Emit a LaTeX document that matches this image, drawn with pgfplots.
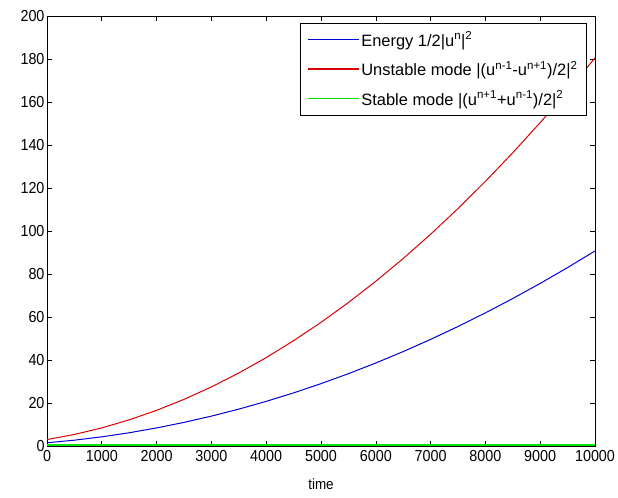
\documentclass[border=0pt]{standalone}
\usepackage{fontspec}
\setmainfont{Liberation Sans}
\newfontfamily\tickfont{Liberation Sans}[FakeStretch=0.9]
\usepackage{pgfplots}
\pgfplotsset{compat=1.18}

\begin{document}
\begin{tikzpicture}
\begin{axis}[
    at={(0bp,0bp)}, anchor=south west,
    scale only axis,
    width=548bp, height=430bp,
    xmin=0, xmax=10000,
    ymin=0, ymax=200,
    xtick={0,1000,...,10000},
    ytick={0,20,...,200},
    scaled x ticks=false,
    /pgf/number format/1000 sep={},
    /pgf/number format/assume math mode=true,
    tick align=inside,
    major tick length=5bp,
    tick style={black, line width=0.6bp},
    axis line style={black, line width=0.7bp},
    tick label style={font=\tickfont\fontsize{16}{18}\selectfont},
    yticklabel style={xshift=1bp},
    xticklabel style={yshift=-1bp},
    xlabel={time},
    xlabel style={font=\tickfont\fontsize{15}{17}\selectfont,
        at={(axis description cs:0.5,0)}, anchor=center, yshift=-38bp},
    legend cell align=left,
    legend image code/.code={\draw[#1, line width=1.5bp] (0bp,0bp) -- (51bp,0bp);},
    legend style={
        at={(0.985,0.984)}, anchor=north east,
        font=\fontsize{16.5}{18}\selectfont,
        line width=0.6bp,
        inner xsep=7bp, inner ysep=5bp,
        nodes={text height=16bp, text depth=3bp, inner sep=2bp},
        row sep=6.5bp,
    },
]
\addplot[blue!85!black, line width=1bp] coordinates {
    (0,1.5) (500,2.71) (1000,4.26) (1500,6.16) (2000,8.40) (2500,10.98)
    (3000,13.90) (3500,17.16) (4000,20.76) (4500,24.71) (5000,29.0)
    (5500,33.63) (6000,38.60) (6500,43.92) (7000,49.58) (7500,55.58)
    (8000,61.92) (8500,68.60) (9000,75.62) (9500,82.99) (10000,90.7)
};
\addlegendentry{Energy 1/2|u\textsuperscript{n}|\textsuperscript{2}}
\addplot[red!85!black, line width=1bp] coordinates {
    (0,3.0) (500,5.37) (1000,8.42) (1500,12.16) (2000,16.58) (2500,21.69)
    (3000,27.48) (3500,33.96) (4000,41.12) (4500,48.97) (5000,57.5)
    (5500,66.72) (6000,76.62) (6500,87.21) (7000,98.48) (7500,110.44)
    (8000,123.08) (8500,136.41) (9000,150.42) (9500,165.12) (10000,180.5)
};
\addlegendentry{Unstable mode |(u\textsuperscript{n-1}-u\textsuperscript{n+1})/2|\textsuperscript{2}}
\addplot[green!90!black, line width=1.6bp, forget plot] coordinates {
    (0,0.5) (2500,0.5) (5000,0.5) (7500,0.5) (10000,0.5)
};
\addlegendimage{green!90!black}
\addlegendentry{Stable mode |(u\textsuperscript{n+1}+u\textsuperscript{n-1})/2|\textsuperscript{2}}
\end{axis}
\pgfresetboundingbox
\path[use as bounding box] (-47bp,-52bp) rectangle (571bp,446bp);
\end{tikzpicture}
\end{document}
